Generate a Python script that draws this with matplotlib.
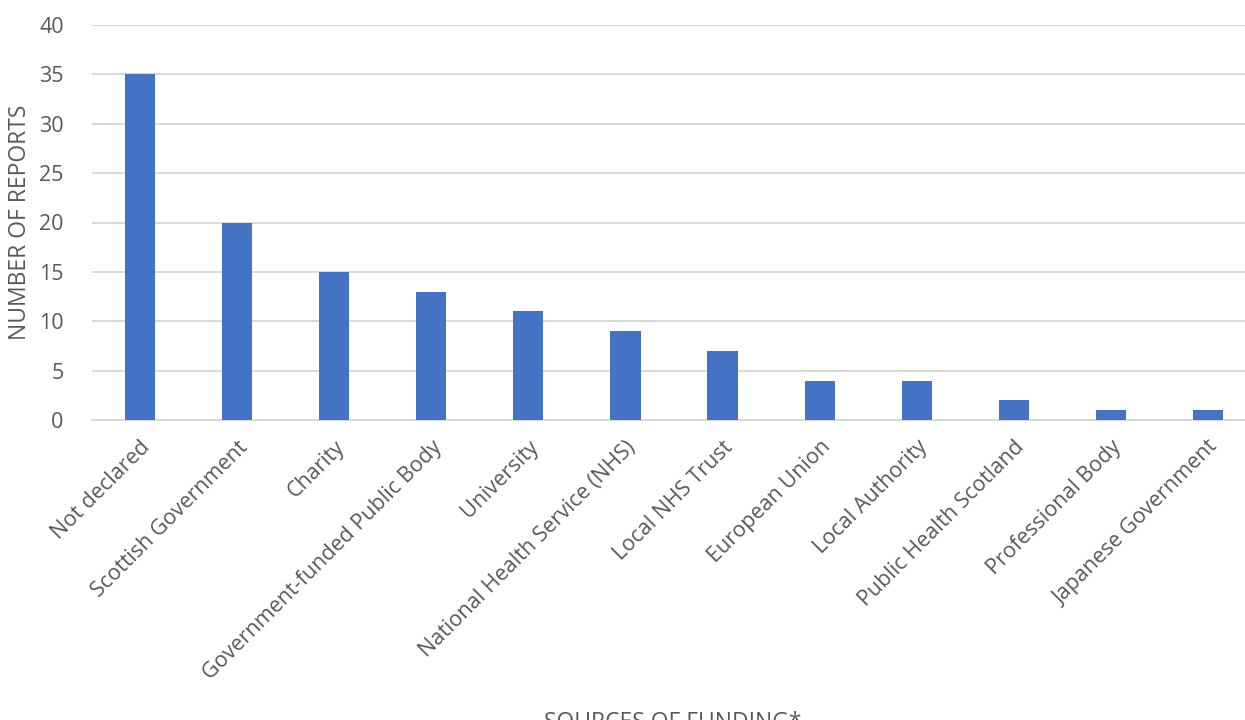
import numpy as np
import matplotlib
matplotlib.use('Agg')
import matplotlib.pyplot as plt

# data
sources = ['Not declared', 'Scottish Government', 'Charity', 'Government-funded Public Body',
           'University', 'National Health Service (NHS)', 'Local NHS Trust', 'European Union',
           'Local Authority', 'Public Health Scotland', 'Professional Body', 'Japanese Government']
reports = [35, 20, 15, 13, 11, 9, 7, 4, 4, 2, 1, 1]
yticks = [0, 5, 10, 15, 20, 25, 30, 35, 40]

plt.rcParams['font.family'] = ['Open Sans', 'DejaVu Sans']
grey = '#595959'

W, H = 1245, 720
fig = plt.figure(figsize=(W / 100, H / 100), dpi=100)
# plot area runs past the right edge like in the original
left, right, top, bottom = 91.5, 1256.5, 25, 420
ax = fig.add_axes([left / W, 1 - bottom / H, (right - left) / W, (bottom - top) / H])

x = np.arange(len(sources))
ax.bar(x, reports, width=0.31, color='#4472C4', zorder=3)

ax.set_xlim(-0.5, len(sources) - 0.5)
ax.set_ylim(0, 40)
ax.set_yticks(yticks)
ax.yaxis.grid(True, color='#D9D9D9', linewidth=1.4, zorder=0)
for s in ['top', 'right', 'left']:
    ax.spines[s].set_visible(False)
ax.spines['bottom'].set_color('#D9D9D9')
ax.spines['bottom'].set_linewidth(1.4)
ax.tick_params(axis='both', length=0, colors=grey, labelsize=15.5)
ax.tick_params(axis='y', pad=20)

ax.set_xticks(x)
ax.set_xticklabels(sources, rotation=45, ha='right', va='top', rotation_mode='anchor')
ax.tick_params(axis='x', pad=12)

fig.text(20 / W, 1 - 222 / H, 'NUMBER OF REPORTS', rotation=90, ha='center', va='center',
         color=grey, fontsize=16.5)
fig.text(673 / W, 1 - 711 / H, 'SOURCES OF FUNDING*', ha='center', va='top',
         color=grey, fontsize=16.5)

fig.savefig('out.png', dpi=100)
